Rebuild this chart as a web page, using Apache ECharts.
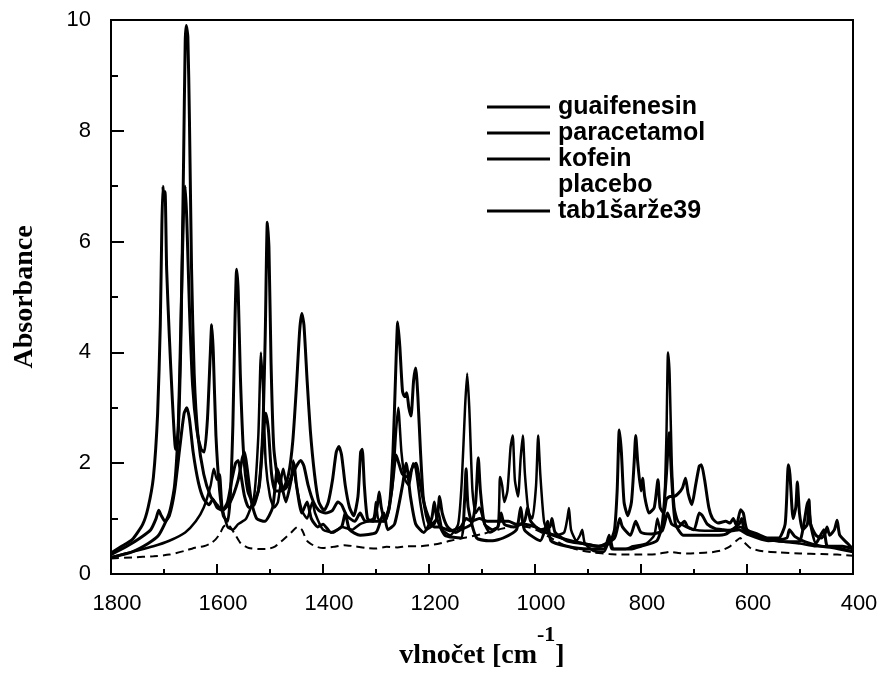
<!DOCTYPE html>
<html>
<head>
<meta charset="utf-8">
<script src="https://cdn.jsdelivr.net/npm/echarts@6/dist/echarts.min.js"></script>
<style>
html,body{margin:0;padding:0;background:#fff;}
#chart{width:881px;height:675px;}
</style>
</head>
<body>
<div id="chart"></div>
<script>
// Series names (legend order)
var seriesNames = ['guaifenesin', 'paracetamol', 'kofein', 'placebo', 'tab1šarže39'];

// X axis tick labels (wavenumber, cm-1) and Y axis tick labels
var xTicks = [1800, 1600, 1400, 1200, 1000, 800, 600, 400];
var yTicks = [0, 2, 4, 6, 8, 10];

// [wavenumber, absorbance]
var guaifenesin = [[1800,0.3],[1760,0.4],[1720,0.5],[1690,0.6],[1660,0.75],[1640,0.95],[1625,1.2],[1612,1.6],[1606,1.9],[1600,1.7],[1595,1.8],[1590,1.2],[1580,0.85],[1570,0.8],[1560,0.9],[1545,1.0],[1530,1.4],[1522,2.5],[1517,4.0],[1513,3.3],[1508,2.0],[1500,1.4],[1492,1.2],[1485,1.3],[1475,1.9],[1468,1.6],[1460,1.7],[1456,2.05],[1452,1.7],[1440,1.15],[1430,1.0],[1420,1.3],[1415,1.1],[1400,0.8],[1380,0.75],[1365,0.85],[1345,0.8],[1330,0.9],[1305,1.0],[1300,1.3],[1296,1.0],[1285,0.95],[1270,1.5],[1262,2.6],[1258,3.0],[1252,2.2],[1245,1.7],[1238,1.6],[1230,2.0],[1225,1.9],[1215,1.2],[1205,0.8],[1190,0.9],[1182,1.1],[1175,0.8],[1160,0.7],[1145,0.9],[1138,1.7],[1132,3.0],[1128,3.62],[1124,3.0],[1118,1.5],[1112,1.1],[1105,1.2],[1095,0.9],[1085,0.75],[1070,0.85],[1066,1.75],[1062,1.6],[1058,1.3],[1052,1.5],[1046,2.3],[1042,2.5],[1038,1.7],[1032,1.4],[1027,2.1],[1023,2.5],[1019,1.8],[1012,1.1],[1005,1.0],[998,1.6],[994,2.5],[990,1.8],[983,0.95],[975,0.75],[960,0.7],[945,0.75],[939,1.0],[936,1.19],[932,0.8],[922,0.6],[915,0.7],[911,0.8],[906,0.55],[890,0.42],[870,0.4],[858,0.65],[852,0.45],[830,0.45],[815,0.5],[790,0.55],[775,0.7],[769,1.0],[763,0.75],[757,1.0],[752,2.5],[749,4.0],[746,3.6],[742,2.0],[737,1.2],[730,0.95],[715,0.85],[700,0.8],[680,0.78],[650,0.78],[630,0.8],[612,0.85],[600,0.75],[570,0.65],[530,0.58],[500,0.55],[470,0.5],[440,0.5],[400,0.4]];

var paracetamol = [[1800,0.3],[1760,0.4],[1730,0.55],[1710,0.7],[1690,1.1],[1680,1.6],[1673,2.7],[1668,4.6],[1663,6.6],[1660,7.0],[1657,6.4],[1652,4.8],[1646,3.4],[1638,2.6],[1630,2.25],[1624,2.2],[1618,2.8],[1613,3.9],[1610,4.5],[1607,4.0],[1602,2.5],[1595,1.5],[1588,1.05],[1580,0.95],[1575,1.4],[1570,2.7],[1566,4.6],[1563,5.5],[1560,5.1],[1556,3.6],[1550,2.2],[1542,1.5],[1532,1.3],[1522,1.5],[1514,2.5],[1509,4.3],[1505,6.35],[1502,5.9],[1498,3.8],[1493,2.3],[1485,1.7],[1475,1.55],[1465,1.8],[1457,2.4],[1450,3.4],[1444,4.4],[1440,4.7],[1436,4.5],[1430,3.5],[1424,2.6],[1416,1.8],[1408,1.3],[1398,1.15],[1390,1.3],[1382,1.7],[1375,2.2],[1370,2.3],[1365,2.15],[1358,1.6],[1350,1.2],[1342,1.05],[1334,1.4],[1329,2.2],[1326,2.25],[1322,1.6],[1316,1.0],[1305,0.95],[1298,1.2],[1294,1.48],[1290,1.2],[1283,0.95],[1275,1.2],[1268,2.2],[1263,3.6],[1259,4.55],[1255,4.1],[1250,3.3],[1246,3.2],[1242,3.27],[1238,3.0],[1234,2.85],[1229,3.5],[1225,3.72],[1221,3.2],[1216,2.2],[1211,1.4],[1205,1.05],[1198,0.88],[1185,1.0],[1180,1.4],[1175,1.1],[1165,0.85],[1150,0.75],[1140,0.8],[1120,0.9],[1112,1.3],[1107,2.1],[1103,1.5],[1095,0.9],[1080,0.8],[1070,0.85],[1064,1.1],[1058,0.9],[1040,0.85],[1020,0.95],[1014,1.2],[1008,0.95],[990,0.8],[972,0.85],[968,1.0],[962,0.75],[940,0.6],[910,0.55],[880,0.5],[860,0.55],[850,0.8],[845,1.5],[841,2.6],[837,2.2],[832,1.3],[825,1.05],[818,1.3],[813,2.0],[810,2.5],[806,2.0],[800,1.5],[797,1.73],[793,1.4],[785,1.1],[775,1.2],[768,1.7],[764,1.2],[757,1.1],[752,1.35],[745,1.4],[738,1.4],[730,1.45],[722,1.55],[716,1.73],[711,1.45],[704,1.25],[697,1.6],[690,1.95],[686,1.97],[680,1.7],[672,1.2],[665,1.0],[655,0.92],[640,0.95],[632,0.92],[626,1.0],[620,0.88],[612,1.16],[607,1.1],[600,0.8],[580,0.72],[560,0.65],[540,0.65],[528,0.9],[522,1.97],[519,1.8],[513,1.0],[508,1.2],[505,1.66],[501,1.1],[495,0.8],[486,0.9],[483,1.34],[480,0.9],[470,0.7],[460,0.65],[452,0.75],[449,0.85],[444,0.7],[435,0.8],[430,0.97],[425,0.7],[410,0.55],[400,0.45]];

var kofein = [[1800,0.38],[1780,0.5],[1760,0.62],[1740,0.9],[1730,1.2],[1720,1.75],[1712,2.9],[1707,4.5],[1704,6.3],[1702,7.0],[1700,6.75],[1698,6.9],[1695,5.5],[1690,4.3],[1684,3.1],[1678,2.25],[1673,2.6],[1668,4.3],[1663,7.5],[1660,9.6],[1658,9.9],[1655,9.7],[1652,8.2],[1648,5.5],[1643,3.6],[1636,2.5],[1625,1.8],[1612,1.4],[1600,1.25],[1590,1.15],[1575,1.3],[1560,1.7],[1552,2.1],[1548,2.2],[1543,1.9],[1535,1.3],[1525,1.0],[1510,0.95],[1495,1.2],[1486,1.9],[1480,1.7],[1470,1.3],[1460,1.7],[1455,2.0],[1450,1.6],[1440,1.1],[1430,1.3],[1422,1.0],[1410,0.85],[1400,0.9],[1385,0.75],[1365,0.85],[1358,1.1],[1350,0.8],[1330,0.7],[1300,0.75],[1290,1.0],[1285,1.1],[1278,0.8],[1265,0.9],[1250,1.6],[1243,2.0],[1235,1.4],[1225,0.9],[1210,0.75],[1195,1.0],[1190,1.3],[1185,1.0],[1170,0.7],[1140,0.65],[1133,1.3],[1130,1.9],[1126,1.2],[1110,0.65],[1080,0.6],[1060,0.65],[1035,0.8],[1027,1.2],[1020,0.8],[990,0.6],[976,0.95],[970,0.6],[940,0.5],[900,0.45],[870,0.45],[860,0.7],[855,0.45],[820,0.45],[800,0.5],[770,0.6],[760,0.9],[752,1.8],[747,2.55],[742,1.7],[735,0.9],[720,0.7],[700,0.7],[660,0.7],[640,0.72],[615,0.9],[610,1.0],[605,0.8],[580,0.7],[560,0.62],[520,0.58],[500,0.6],[485,1.3],[480,0.9],[470,0.55],[455,0.8],[448,0.5],[420,0.5],[400,0.45]];

var placebo = [[1800,0.28],[1760,0.3],[1720,0.32],[1690,0.35],[1660,0.42],[1640,0.48],[1625,0.5],[1612,0.55],[1603,0.62],[1595,0.72],[1588,0.85],[1582,0.9],[1575,0.85],[1565,0.7],[1555,0.55],[1540,0.47],[1520,0.45],[1505,0.45],[1490,0.5],[1475,0.62],[1460,0.75],[1448,0.85],[1440,0.8],[1430,0.6],[1415,0.5],[1400,0.47],[1380,0.49],[1360,0.52],[1340,0.5],[1320,0.47],[1300,0.46],[1280,0.49],[1260,0.48],[1240,0.5],[1220,0.5],[1200,0.52],[1180,0.55],[1160,0.6],[1130,0.66],[1100,0.72],[1070,0.8],[1050,0.84],[1030,0.86],[1010,0.84],[990,0.76],[970,0.65],[945,0.52],[920,0.44],[890,0.39],[860,0.36],[830,0.35],[800,0.35],[770,0.36],[745,0.4],[730,0.38],[710,0.37],[690,0.38],[670,0.39],[650,0.42],[632,0.5],[620,0.6],[613,0.65],[605,0.57],[592,0.46],[570,0.41],[540,0.39],[500,0.37],[460,0.36],[430,0.35],[400,0.33]];

var tablet = [[1800,0.35],[1770,0.5],[1745,0.65],[1725,0.8],[1715,1.0],[1710,1.15],[1705,1.05],[1698,0.95],[1690,1.05],[1680,1.5],[1670,2.3],[1662,2.9],[1657,3.0],[1652,2.8],[1645,2.2],[1635,1.65],[1625,1.35],[1615,1.25],[1608,1.35],[1600,1.2],[1590,1.15],[1580,1.3],[1572,1.7],[1565,2.0],[1560,2.05],[1555,1.8],[1548,1.4],[1540,1.2],[1530,1.25],[1520,1.6],[1512,2.6],[1508,2.9],[1503,2.6],[1497,1.8],[1490,1.5],[1480,1.5],[1470,1.55],[1460,1.75],[1450,1.95],[1442,2.05],[1436,1.95],[1428,1.6],[1418,1.3],[1408,1.15],[1395,1.1],[1382,1.15],[1372,1.3],[1365,1.25],[1355,1.05],[1340,0.95],[1330,1.1],[1320,0.95],[1300,0.95],[1285,0.95],[1275,1.2],[1268,1.7],[1262,2.15],[1257,2.0],[1250,1.8],[1240,1.75],[1230,1.95],[1224,2.0],[1218,1.7],[1210,1.3],[1200,1.0],[1190,0.85],[1180,0.85],[1160,0.78],[1140,0.85],[1130,1.0],[1120,0.95],[1105,1.0],[1090,0.95],[1070,0.95],[1050,0.95],[1035,0.9],[1020,0.9],[1000,0.85],[980,0.75],[960,0.68],[940,0.62],[910,0.55],[880,0.5],[850,0.65],[840,1.0],[835,0.85],[820,0.7],[810,0.95],[800,0.75],[780,0.72],[760,0.78],[750,1.1],[742,0.9],[730,0.85],[718,0.95],[712,0.85],[700,0.8],[690,1.1],[684,1.05],[675,0.9],[660,0.82],[645,0.8],[630,0.78],[615,0.8],[600,0.72],[560,0.6],[525,0.65],[520,0.8],[510,0.68],[490,0.58],[460,0.5],[440,0.48],[400,0.4]];

var seriesData = [guaifenesin, paracetamol, kofein, placebo, tablet];
var lineWidths = [2.5, 3, 3, 2, 3];
var lineTypes = ['solid', 'solid', 'solid', [8, 5], 'solid'];

var chart = echarts.init(document.getElementById('chart'), null, {renderer: 'canvas'});

var series = seriesNames.map(function (name, i) {
  return {
    name: name,
    type: 'line',
    data: seriesData[i],
    showSymbol: false,
    symbol: 'none',
    smooth: 0.2,
    lineStyle: {color: '#000', width: lineWidths[i], type: lineTypes[i]},
    itemStyle: {color: '#000'},
    emphasis: {disabled: true},
    z: 2 + i
  };
});

var sansFont = '"Liberation Sans", Arial, sans-serif';
var serifFont = '"Liberation Serif", "Times New Roman", serif';

chart.setOption({
  animation: false,
  backgroundColor: '#fff',
  grid: {left: 111, right: 28, top: 20, bottom: 101, show: true, borderColor: '#000', borderWidth: 2, backgroundColor: 'transparent'},
  legend: {
    orient: 'vertical',
    left: 482,
    top: 89,
    itemWidth: 63,
    itemHeight: 3,
    itemGap: 0,
    icon: 'rect',
    data: seriesNames.map(function (n) {
      if (n === 'placebo') return {name: n, itemStyle: {opacity: 0}};
      return {name: n};
    }),
    textStyle: {fontFamily: sansFont, fontSize: 25, fontWeight: 'bold', color: '#000', lineHeight: 26, padding: [0, 0, 0, 3]},
    selectedMode: false
  },
  xAxis: {
    type: 'value',
    inverse: true,
    min: 400,
    max: 1800,
    interval: 200,
    name: '{b|vlnočet [cm}{s|-1}{b|]}',
    nameLocation: 'middle',
    nameGap: 50,
    nameTextStyle: {
      rich: {
        b: {fontFamily: serifFont, fontWeight: 'bold', fontSize: 28, color: '#000', lineHeight: 46, verticalAlign: 'bottom'},
        s: {fontFamily: serifFont, fontWeight: 'bold', fontSize: 22, color: '#000', verticalAlign: 'top', lineHeight: 26}
      }
    },
    axisLine: {show: true, lineStyle: {color: '#000', width: 2}},
    axisTick: {show: true, inside: true, length: 10, lineStyle: {color: '#000', width: 2}},
    minorTick: {show: true, splitNumber: 2, length: 5, lineStyle: {color: '#000', width: 2}},
    splitLine: {show: false},
    axisLabel: {fontFamily: sansFont, fontSize: 22, color: '#000', margin: 19, padding: [0, 0, 0, 12],
      formatter: function (v) { return xTicks.indexOf(v) >= 0 ? String(v) : ''; }}
  },
  yAxis: {
    type: 'value',
    min: 0,
    max: 10,
    interval: 2,
    name: 'Absorbance',
    nameLocation: 'middle',
    nameGap: 72,
    nameTextStyle: {fontFamily: serifFont, fontWeight: 'bold', fontSize: 28, color: '#000'},
    axisLine: {show: true, lineStyle: {color: '#000', width: 2}},
    axisTick: {show: true, inside: true, length: 13, lineStyle: {color: '#000', width: 2}},
    minorTick: {show: true, splitNumber: 2, length: 7, lineStyle: {color: '#000', width: 2}},
    splitLine: {show: false},
    axisLabel: {fontFamily: sansFont, fontSize: 22, color: '#000', margin: 20,
      formatter: function (v) { return yTicks.indexOf(v) >= 0 ? String(v) : ''; }}
  },
  series: series
});
</script>
</body>
</html>
